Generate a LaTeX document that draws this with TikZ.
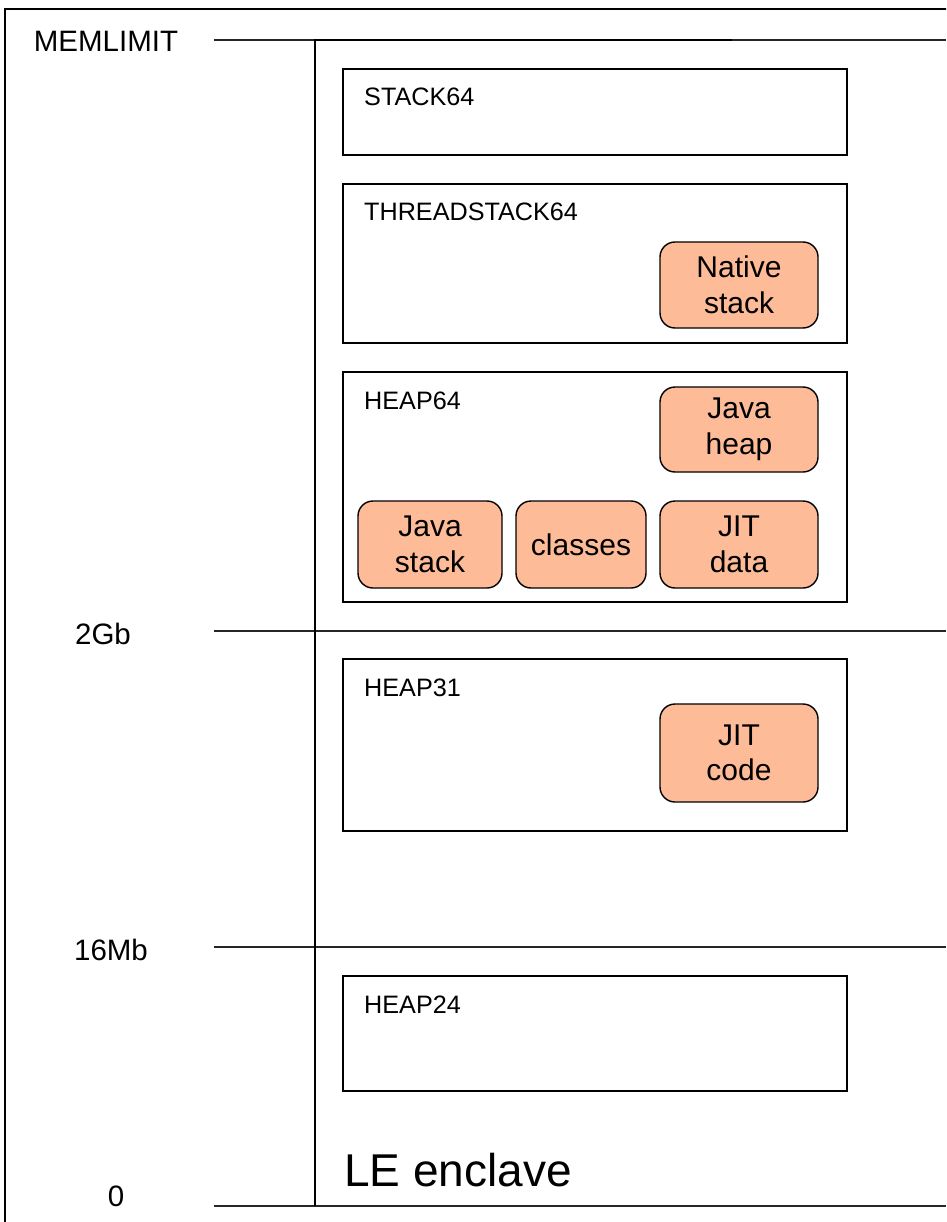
\documentclass[tikz,border=0pt]{standalone}
\usepackage{fontspec}
\setmainfont{Liberation Sans}
\definecolor{peach}{RGB}{253,187,152}
\begin{document}
\begin{tikzpicture}[x=1pt,y=-1pt,
  region/.style={draw=black,line width=1.6pt,inner sep=0pt,outer sep=0pt,anchor=north west},
  part/.style={draw=black,fill=peach,line width=1.4pt,rounded corners=15pt,inner sep=0pt,outer sep=0pt,anchor=north west,align=center,font=\fontsize{30}{35.5}\selectfont},
  lbl/.style={inner sep=0pt,anchor=base west,font=\fontsize{25.2}{28}\selectfont},
  axis/.style={inner sep=0pt,font=\fontsize{29.5}{34}\selectfont},
  level/.style={line width=1.4pt,draw=black!85}
]
\useasboundingbox (0,0) rectangle (946,1222);
\clip (0,0) rectangle (946,1222);
\fill[white] (0,0) rectangle (946,1222);
% outer frame (extends past right and bottom)
\draw[line width=1.2pt] (5,1260) -- (5,9) -- (990,9);

% level lines
\coordinate (m0) at (214,40);   \coordinate (m1) at (946,40);
\coordinate (g0) at (214,631);  \coordinate (g1) at (946,631);
\coordinate (s0) at (214,947);  \coordinate (s1) at (946,947);
\coordinate (z0) at (214,1206); \coordinate (z1) at (946,1206);
\draw[level] (m0) -- (m1);
\draw[level] (g0) -- (g1);
\draw[level] (s0) -- (s1);
\draw[level] (z0) -- (z1);
\coordinate (vt) at (315,40);
\coordinate (vb) at (315,1206);
\coordinate (et) at (732,40);
\draw[line width=1.6pt] (vb) -- (vt) -- (et);

\node[axis] (memlimit) at (106,41) {MEMLIMIT};
\node[axis] (gb2) at (103,634) {2Gb};
\node[axis] (mb16) at (111,950) {16Mb};
\node[axis] (zero) at (116,1196) {0};

% regions
\node[region,minimum width=504pt,minimum height=86pt] (stack64) at (343,69) {};
\node[lbl] (stack64l) at (364,106) {STACK64};
\node[region,minimum width=504pt,minimum height=159pt] (tstack64) at (343,184) {};
\node[lbl] (tstack64l) at (364,221) {THREADSTACK64};
\node[region,minimum width=504pt,minimum height=230pt] (heap64) at (343,372) {};
\node[lbl] (heap64l) at (364,409) {HEAP64};
\node[region,minimum width=504pt,minimum height=172pt] (heap31) at (343,659) {};
\node[lbl] (heap31l) at (364,696) {HEAP31};
\node[region,minimum width=504pt,minimum height=115pt] (heap24) at (343,976) {};
\node[lbl] (heap24l) at (364,1013) {HEAP24};

% parts
\node[part,minimum width=158pt,minimum height=86pt] (native) at (660,242) {Native\\stack};
\node[part,minimum width=158pt,minimum height=85pt] (jheap) at (660,387) {Java\\heap};
\node[part,minimum width=144pt,minimum height=87pt] (jstack) at (358,501) {Java\\stack};
\node[part,minimum width=130pt,minimum height=87pt] (classes) at (516,501) {classes};
\node[part,minimum width=158pt,minimum height=87pt] (jitdata) at (660,501) {JIT\\data};
\node[part,minimum width=158pt,minimum height=98pt] (jitcode) at (660,704) {JIT\\code};

\node[inner sep=0pt,anchor=west,font=\fontsize{46}{50}\selectfont] (le) at (344,1170) {LE enclave};
\end{tikzpicture}
\end{document}
